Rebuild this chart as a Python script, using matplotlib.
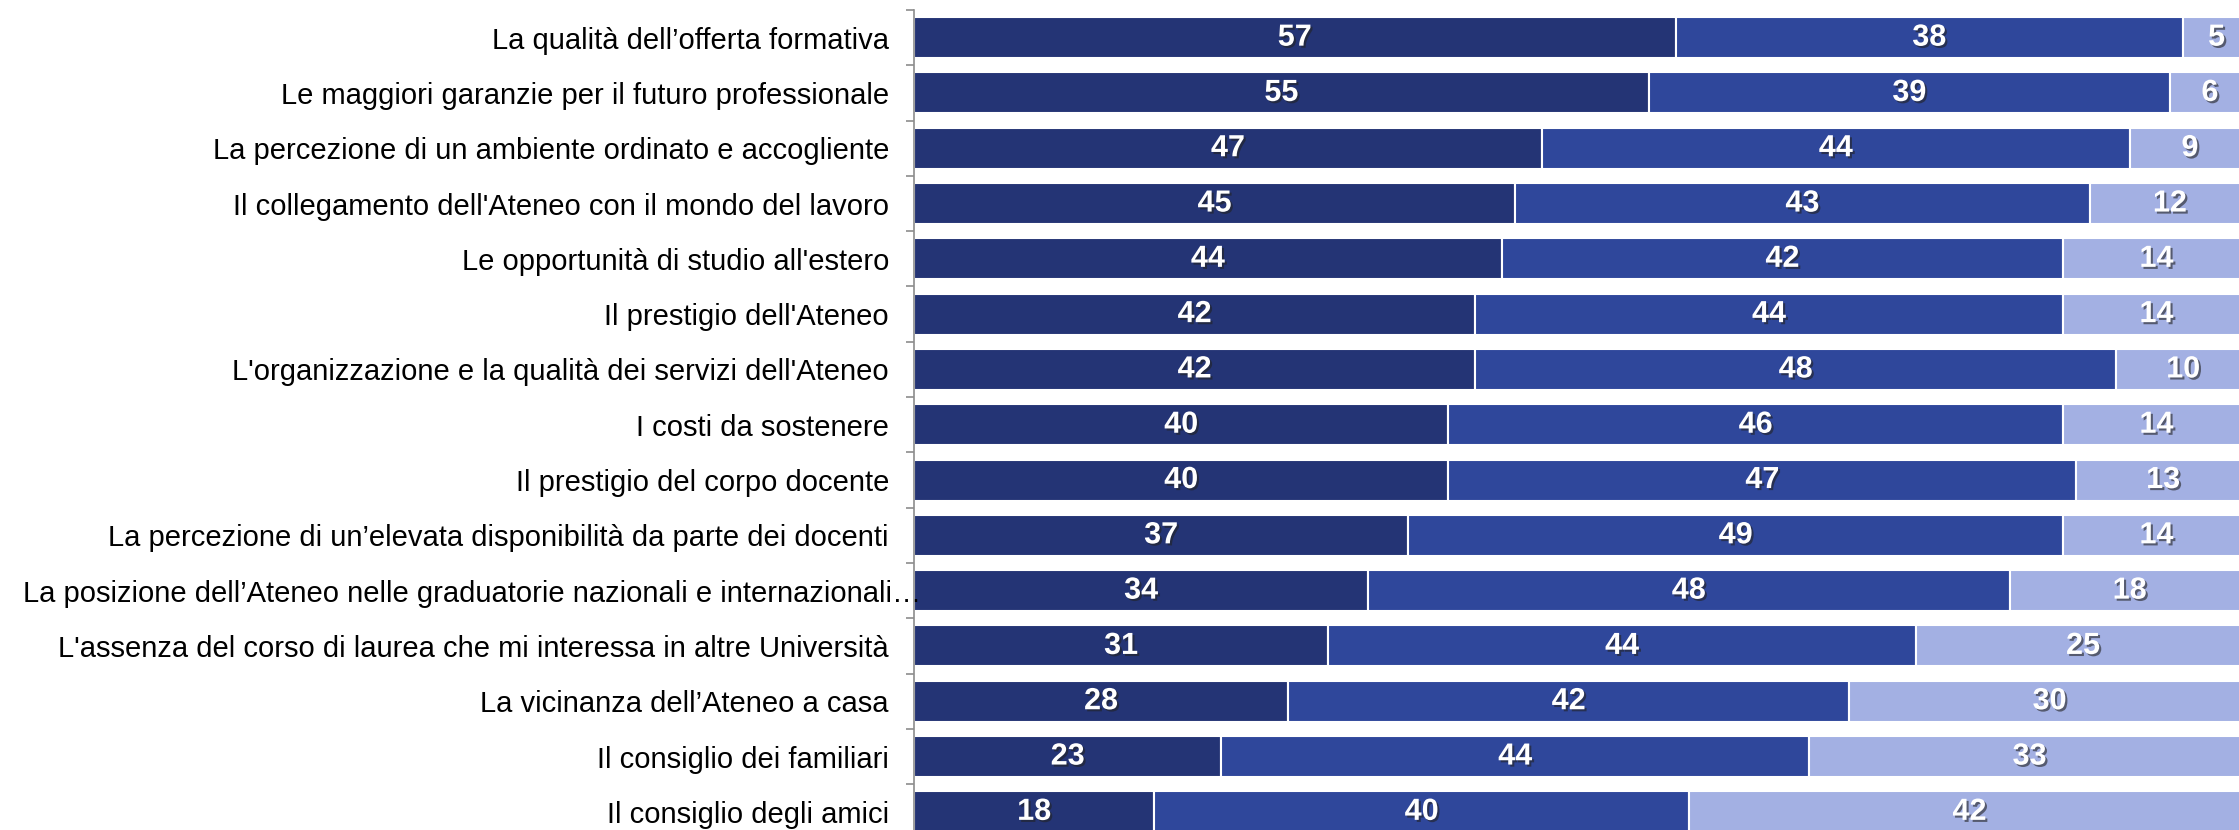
import matplotlib
matplotlib.use("Agg")
import matplotlib.pyplot as plt
import matplotlib.patheffects as pe

# Motivi della scelta dell'Ateneo (%), dall'alto in basso
categorie = [
    "La qualità dell\u2019offerta formativa",
    "Le maggiori garanzie per il futuro professionale",
    "La percezione di un ambiente ordinato e accogliente",
    "Il collegamento dell'Ateneo con il mondo del lavoro",
    "Le opportunità di studio all'estero",
    "Il prestigio dell'Ateneo",
    "L'organizzazione e la qualità dei servizi dell'Ateneo",
    "I costi da sostenere",
    "Il prestigio del corpo docente",
    "La percezione di un\u2019elevata disponibilità da parte dei docenti",
    "La posizione dell\u2019Ateneo nelle graduatorie nazionali e internazionali\u2026",
    "L'assenza del corso di laurea che mi interessa in altre Università",
    "La vicinanza dell\u2019Ateneo a casa",
    "Il consiglio dei familiari",
    "Il consiglio degli amici",
]
serie_1 = [57, 55, 47, 45, 44, 42, 42, 40, 40, 37, 34, 31, 28, 23, 18]
serie_2 = [38, 39, 44, 43, 42, 44, 48, 46, 47, 49, 48, 44, 42, 44, 40]
serie_3 = [5, 6, 9, 12, 14, 14, 10, 14, 13, 14, 18, 25, 30, 33, 42]

colori = ["#243475", "#2f479b", "#a3b0e3"]

fig = plt.figure(figsize=(22.39, 8.30), dpi=100)
ax = fig.add_axes([914 / 2239, 1 - 839.5 / 830, 1336 / 2239, 829.5 / 830])

y = list(range(len(categorie)))
sinistra = [0] * len(categorie)
ombra = [pe.SimplePatchShadow(offset=(1.5, -1.5), shadow_rgbFace="#222222", alpha=0.6),
         pe.Normal()]
for valori, colore in zip([serie_1, serie_2, serie_3], colori):
    barre = ax.barh(y, valori, left=sinistra, height=0.74, color=colore,
                    edgecolor="white", linewidth=1.5)
    ax.bar_label(barre, labels=[str(v) for v in valori], label_type="center",
                 color="white", fontsize=22, fontweight="bold",
                 family="Liberation Sans", path_effects=ombra)
    sinistra = [a + b for a, b in zip(sinistra, valori)]

ax.set_xlim(0, 100)
ax.set_ylim(len(categorie) - 0.5, -0.5)
ax.set_xticks([])
ax.set_yticks(y)
ax.set_yticklabels(categorie, fontsize=21, family="Liberation Sans", color="#000000")
ax.tick_params(axis="y", which="major", length=0, pad=18)
ax.set_yticks([i - 0.5 for i in range(len(categorie) + 1)], minor=True)
ax.tick_params(axis="y", which="minor", length=6, color="#8c8c8c", width=1.2)

# l'etichetta più lunga arriva fino all'asse, come nell'originale
ax.yaxis.get_major_ticks()[10].set_pad(-5)

for lato in ["top", "right", "bottom"]:
    ax.spines[lato].set_visible(False)
ax.spines["left"].set_color("#8c8c8c")
ax.spines["left"].set_linewidth(1.2)

fig.savefig("out.png", dpi=100)
